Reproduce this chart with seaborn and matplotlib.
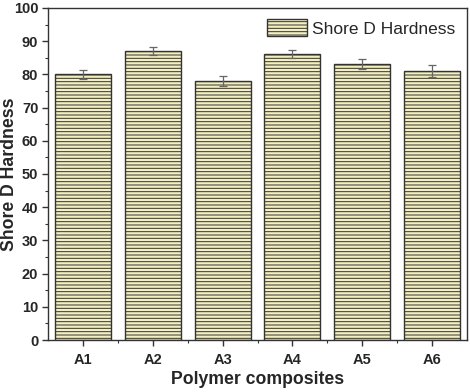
import matplotlib
matplotlib.use("Agg")
import matplotlib.pyplot as plt
import seaborn as sns
import pandas as pd
from matplotlib.patches import Patch
from matplotlib.ticker import MultipleLocator, FixedLocator

categories = ["A1", "A2", "A3", "A4", "A5", "A6"]
hardness = [80, 87, 78, 86, 83, 81]
errors = [1.3, 1.3, 1.5, 1.2, 1.5, 1.7]
series_name = "Shore D Hardness"

sns.set_style("ticks")
plt.rcParams['font.family'] = ['Liberation Sans', 'DejaVu Sans']
plt.rcParams['hatch.linewidth'] = 0.7
plt.rcParams['hatch.color'] = '#4a4a30'

df = pd.DataFrame({"cat": categories, "val": hardness})

fig = plt.figure(figsize=(4.7, 3.92), dpi=100)
ax = fig.add_axes([48/470, 52/392, 419/470, 332/392])

fill = '#f3efbf'
sns.barplot(data=df, x="cat", y="val", ax=ax, color=fill, width=0.8,
            errorbar=None, edgecolor='#333333', linewidth=1.0, saturation=1)
for p in ax.patches:
    p.set_hatch('-----')
    p.set_facecolor(fill)

ax.errorbar(x=categories, y=hardness, yerr=errors, fmt='none',
            ecolor='#666666', elinewidth=0.9, capsize=3, capthick=0.9)

ax.set_xlim(-0.5, 5.5)
ax.set_ylim(0, 100)
ax.yaxis.set_major_locator(MultipleLocator(10))
ax.yaxis.set_minor_locator(MultipleLocator(5))
ax.xaxis.set_minor_locator(FixedLocator([0.5, 1.5, 2.5, 3.5, 4.5]))
ax.tick_params(axis='both', which='major', direction='out', length=4, width=1,
               labelsize=10.5, color='#333333', pad=3)
ax.tick_params(axis='x', which='major', pad=5)
ax.tick_params(axis='both', which='minor', direction='out', length=2.5, width=0.8,
               color='#333333')
for lab in ax.get_xticklabels() + ax.get_yticklabels():
    lab.set_fontweight('bold')
for s in ax.spines.values():
    s.set_visible(True)
    s.set_linewidth(1.0)
    s.set_color('#333333')

ax.set_xlabel("Polymer composites", fontsize=12.7, fontweight='bold')
ax.set_ylabel("Shore D Hardness", fontsize=12.7, fontweight='bold')
ax.xaxis.set_label_coords(0.5, -31/332)
ax.yaxis.set_label_coords(-30/419, 0.5)

handle = Patch(facecolor=fill, edgecolor='#333333', hatch='-----', linewidth=1.0)
ax.legend([handle], [series_name], loc='upper right', frameon=False,
          fontsize=12.5, handlelength=2.3, handleheight=1.1,
          borderaxespad=0.25, handletextpad=0.3)

fig.savefig("out.png", dpi=100)
